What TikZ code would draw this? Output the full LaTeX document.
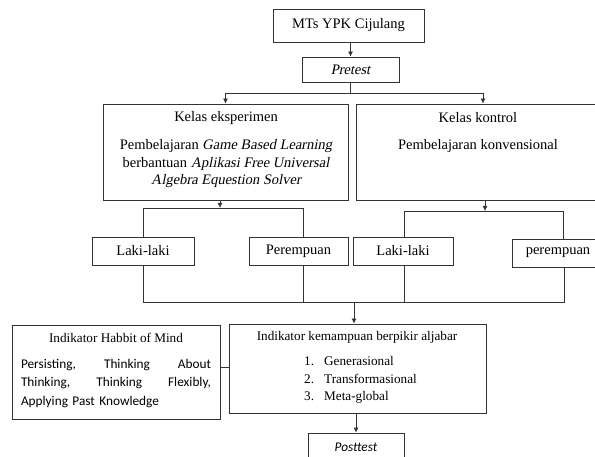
\documentclass[tikz,border=0pt]{standalone}
\usepackage{fontspec}
\setmainfont{Liberation Serif}[ItalicFont={Liberation Serif},ItalicFeatures={FakeSlant=0.2}]
\newfontfamily\calfont{Carlito}
\usetikzlibrary{arrows.meta}
\begin{document}
\begin{tikzpicture}[x=1pt,y=-1pt,
  box/.style={draw=black!80,line width=0.8pt,inner sep=0pt},
  big/.style={font=\fontsize{14.5}{17.5}\selectfont,inner sep=0pt},
  small/.style={font=\fontsize{13.2}{17.5}\selectfont,inner sep=0pt},
  sans/.style={font=\calfont\fontsize{13.3}{18.6}\selectfont,inner sep=0pt},
  conn/.style={draw=black!80,line width=0.8pt},
  arr/.style={conn,-{Latex[length=5pt,width=5pt]}}]
\clip (0,0) rectangle (595,457);
\fill[white] (0,0) rectangle (595,457);
% boxes
\node[box,big,minimum width=151pt,minimum height=33pt] (mts) at (348.5,25.5) {MTs YPK Cijulang};
\node[box,big,minimum width=97pt,minimum height=25pt] (pre) at (350.5,69.5) {\itshape Pretest};
\node[box,minimum width=245pt,minimum height=96pt] (eks) at (225.5,152) {};
\node[box,minimum width=254pt,minimum height=96pt] (kon) at (483,152) {};
\node[big] (eksT) at (226,118) {Kelas eksperimen};
\node[big,align=center] (eksB) at (226,164) {Pembelajaran \textit{Game Based Learning}\\berbantuan \textit{Aplikasi Free Universal}\\\textit{Algebra Equestion Solver}};
\node[big] (konT) at (478,118) {Kelas kontrol};
\node[big] (konB) at (478,146) {Pembelajaran konvensional};
\node[box,big,minimum width=102pt,minimum height=28pt] (ll1) at (143,251) {Laki-laki};
\node[box,big,minimum width=99pt,minimum height=28pt] (pr1) at (298.5,251) {Perempuan};
\node[box,big,minimum width=100pt,minimum height=28pt] (ll2) at (403,251) {Laki-laki};
\node[box,big,minimum width=92pt,minimum height=28pt] (pr2) at (558,253) {perempuan};
\node[box,minimum width=208pt,minimum height=94pt] (hab) at (116,372) {};
\node[box,minimum width=257pt,minimum height=89pt] (ind) at (357.5,368.5) {};
\node[small] (habT) at (116,338) {Indikator Habbit of Mind};
\node[sans,text width=190pt,align=left] (habB) at (116,383.5) {Persisting,\hfill Thinking\hfill About\\Thinking,\hfill Thinking\hfill Flexibly,\\Applying Past Knowledge};
\node[small] (indT) at (357,337) {Indikator kemampuan berpikir aljabar};
\node[small,align=left,anchor=west] (indL) at (304,380) {\makebox[20pt][l]{1.}Generasional\\\makebox[20pt][l]{2.}Transformasional\\\makebox[20pt][l]{3.}Meta-global};
\node[box,minimum width=96pt,minimum height=42pt] (post) at (356,454) {};
\node[sans] (postT) at (356,447) {\itshape Posttest};
% junction coordinates
\coordinate (s1) at (350.5,93);
\coordinate (b1) at (220,208);
\coordinate (L2) at (303,208);
\coordinate (b2) at (485,211);
\coordinate (R1) at (404,211);
\coordinate (R2) at (563,211);
\coordinate (M4) at (564,302);
\coordinate (mj) at (354,302);
\coordinate (hc) at (224,367);
% connectors
\draw[arr] (mts.south -| pre.north) -- (pre.north);
\draw[conn] (pre.south) -- (s1);
\draw[arr] (s1) -| (eks.north);
\draw[arr] (s1) -| (kon.north);
\draw[arr] (eks.south -| b1) -- (b1);
\draw[arr] (kon.south -| b2) -- (b2);
\draw[conn] (ll1.north) |- (L2) -- (L2 |- pr1.north);
\draw[conn] (R1 |- ll2.north) -- (R1) -- (R2) -- (R2 |- pr2.north);
\draw[conn] (ll1.south) |- (M4) -- (M4 |- pr2.south);
\draw[conn] (L2 |- pr1.south) -- (L2 |- M4);
\draw[conn] (R1 |- ll2.south) -- (R1 |- M4);
\draw[arr] (mj) -- (mj |- ind.north);
\draw[conn] (hab.east |- hc) -- (ind.west |- hc);
\draw[arr] (ind.south -| post.north) -- (post.north);
\end{tikzpicture}
\end{document}
